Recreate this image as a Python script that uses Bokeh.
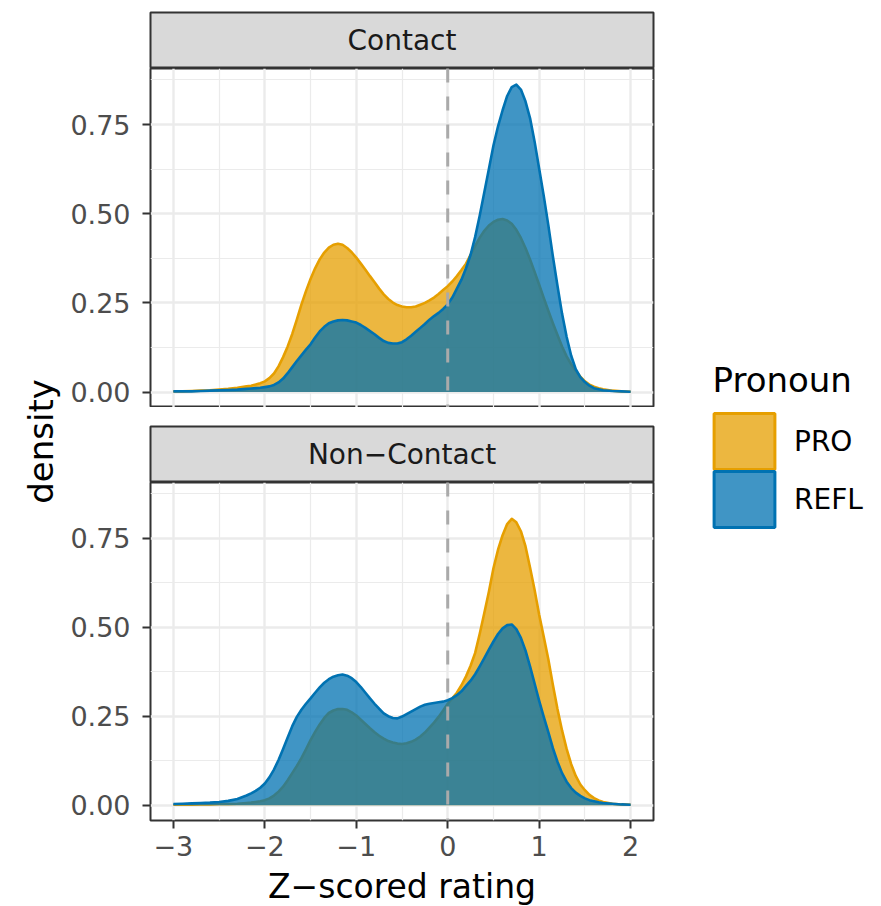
import math
from bokeh.plotting import figure
from bokeh.layouts import row, column
from bokeh.models import (Range1d, FixedTicker, Span, Label, Legend, LegendItem,
                          ColumnDataSource)
from bokeh.embed import file_html
from bokeh.resources import INLINE

# ---------------- data ----------------
facets = ["Contact", "Non\u2212Contact"]
pronouns = ["PRO", "REFL"]

x_grid = [-3.0, -2.9, -2.8, -2.7, -2.6, -2.5, -2.4, -2.3,
          -2.2, -2.15, -2.1, -2.05, -2.0, -1.95, -1.9, -1.85, -1.8, -1.75,
          -1.7, -1.65, -1.6, -1.55, -1.5, -1.45, -1.4, -1.35, -1.3, -1.25,
          -1.2, -1.15, -1.1, -1.05, -1.0, -0.95, -0.9, -0.85, -0.8, -0.75,
          -0.7, -0.65, -0.6, -0.55, -0.5, -0.45, -0.4, -0.35, -0.3, -0.25,
          -0.2, -0.15, -0.1, -0.05, 0.0, 0.05, 0.1, 0.15, 0.2, 0.25,
          0.3, 0.35, 0.4, 0.45, 0.5, 0.55, 0.6, 0.65, 0.7, 0.75,
          0.8, 0.85, 0.9, 0.95, 1.0, 1.05, 1.1, 1.15, 1.2, 1.25,
          1.3, 1.35, 1.4, 1.45, 1.5, 1.55, 1.6, 1.65, 1.7,
          1.8, 1.9, 2.0]

contact_pro = [0.002, 0.002, 0.003, 0.004, 0.005, 0.007, 0.009, 0.012,
               0.016, 0.018, 0.021, 0.025, 0.030, 0.039, 0.052, 0.072, 0.098, 0.128,
               0.163, 0.203, 0.245, 0.283, 0.317, 0.347, 0.372, 0.391, 0.405, 0.413,
               0.416, 0.413, 0.404, 0.392, 0.377, 0.360, 0.343, 0.325, 0.308, 0.290,
               0.274, 0.261, 0.251, 0.244, 0.240, 0.238, 0.238, 0.240, 0.245, 0.250,
               0.257, 0.265, 0.275, 0.286, 0.297, 0.310, 0.325, 0.342, 0.360, 0.385,
               0.410, 0.433, 0.452, 0.467, 0.477, 0.483, 0.485, 0.481, 0.472, 0.455,
               0.432, 0.404, 0.372, 0.337, 0.301, 0.264, 0.228, 0.193, 0.160, 0.128,
               0.100, 0.078, 0.060, 0.043, 0.030, 0.021, 0.015, 0.011, 0.008,
               0.004, 0.002, 0.001]

contact_refl = [0.002, 0.002, 0.002, 0.003, 0.004, 0.005, 0.006, 0.007,
                0.009, 0.010, 0.011, 0.012, 0.014, 0.016, 0.020, 0.027, 0.038, 0.053,
                0.070, 0.087, 0.103, 0.119, 0.134, 0.153, 0.170, 0.183, 0.193, 0.198,
                0.201, 0.202, 0.201, 0.198, 0.195, 0.188, 0.180, 0.171, 0.162, 0.152,
                0.143, 0.138, 0.136, 0.136, 0.140, 0.148, 0.158, 0.169, 0.180, 0.191,
                0.203, 0.213, 0.222, 0.233, 0.246, 0.265, 0.290, 0.315, 0.347, 0.385,
                0.435, 0.495, 0.560, 0.625, 0.691, 0.745, 0.790, 0.830, 0.855, 0.862,
                0.848, 0.815, 0.768, 0.702, 0.626, 0.550, 0.468, 0.380, 0.298, 0.220,
                0.155, 0.102, 0.064, 0.042, 0.028, 0.018, 0.011, 0.008, 0.005,
                0.003, 0.002, 0.001]

noncontact_pro = [0.001, 0.001, 0.001, 0.002, 0.002, 0.003, 0.003, 0.004,
                  0.006, 0.007, 0.009, 0.011, 0.014, 0.019, 0.027, 0.038, 0.052, 0.070,
                  0.090, 0.110, 0.132, 0.157, 0.183, 0.206, 0.227, 0.245, 0.259, 0.266,
                  0.270, 0.270, 0.268, 0.261, 0.252, 0.240, 0.228, 0.216, 0.205, 0.195,
                  0.187, 0.180, 0.176, 0.173, 0.172, 0.174, 0.178, 0.184, 0.193, 0.204,
                  0.218, 0.232, 0.248, 0.266, 0.285, 0.300, 0.316, 0.337, 0.362, 0.392,
                  0.428, 0.482, 0.540, 0.600, 0.666, 0.718, 0.759, 0.790, 0.805, 0.795,
                  0.770, 0.728, 0.668, 0.605, 0.535, 0.473, 0.410, 0.338, 0.270, 0.210,
                  0.158, 0.115, 0.082, 0.058, 0.042, 0.029, 0.020, 0.013, 0.009,
                  0.004, 0.002, 0.001]

noncontact_refl = [0.003, 0.004, 0.005, 0.006, 0.007, 0.009, 0.012, 0.017,
                   0.027, 0.033, 0.040, 0.049, 0.061, 0.078, 0.100, 0.127, 0.158, 0.190,
                   0.222, 0.248, 0.268, 0.285, 0.300, 0.316, 0.331, 0.344, 0.354, 0.361,
                   0.365, 0.367, 0.364, 0.357, 0.346, 0.332, 0.316, 0.300, 0.285, 0.271,
                   0.258, 0.250, 0.245, 0.244, 0.249, 0.256, 0.263, 0.270, 0.277, 0.282,
                   0.285, 0.287, 0.289, 0.291, 0.295, 0.301, 0.309, 0.320, 0.335, 0.350,
                   0.368, 0.390, 0.413, 0.437, 0.460, 0.481, 0.497, 0.506, 0.508, 0.495,
                   0.470, 0.435, 0.390, 0.342, 0.293, 0.248, 0.205, 0.160, 0.122, 0.090,
                   0.066, 0.048, 0.035, 0.026, 0.019, 0.014, 0.011, 0.008, 0.006,
                   0.004, 0.002, 0.001]

series = {
    "Contact": {"PRO": contact_pro, "REFL": contact_refl},
    "Non\u2212Contact": {"PRO": noncontact_pro, "REFL": noncontact_refl},
}

x_ticks = [-3, -2, -1, 0, 1, 2]
x_tick_labels = ["\u22123", "\u22122", "\u22121", "0", "1", "2"]
x_minor = [-2.5, -1.5, -0.5, 0.5, 1.5]
y_ticks = [0.0, 0.25, 0.5, 0.75]
y_tick_labels = ["0.00", "0.25", "0.50", "0.75"]
y_minor = [0.125, 0.375, 0.625, 0.875]

x_title = "Z\u2212scored rating"
y_title = "density"
legend_title = "Pronoun"

# ---------------- styles ----------------
COLORS = {"PRO": "#E69F00", "REFL": "#0072B2"}
FONT = "DejaVu Sans"
X0, X1 = -3.25, 2.25
Y0, Y1 = -0.0432, 0.907
H = 906
LEFT_W = 65
BORDER_L = 85
BORDER_R = 5
PANEL_W = BORDER_L + 503 + BORDER_R
LEG_W = 881 - LEFT_W - PANEL_W
DARK = "#333333"


def bare_fig(width, height, **kw):
    p = figure(width=width, height=height, x_axis_type=None, y_axis_type=None,
               toolbar_location=None, output_backend="svg", **kw)
    p.outline_line_color = None
    return p


def strip_fig(label, top_border):
    p = bare_fig(PANEL_W, top_border + 56,
                 min_border_top=top_border, min_border_bottom=0,
                 min_border_left=BORDER_L, min_border_right=BORDER_R,
                 x_range=Range1d(X0, X1), y_range=Range1d(0, 1))
    p.background_fill_color = "#D9D9D9"
    p.border_fill_color = "white"
    p.outline_line_color = DARK
    p.outline_line_width = 2
    p.add_layout(Label(x=(X0 + X1) / 2, y=0.5, text=label,
                       text_align="center", text_baseline="middle",
                       text_font=FONT, text_font_size="28px",
                       text_color="#1A1A1A"))
    return p


def panel_fig(facet, height, bottom_border, show_x):
    p = figure(width=PANEL_W, height=height,
               min_border_top=0, min_border_bottom=bottom_border,
               min_border_left=BORDER_L, min_border_right=BORDER_R,
               x_range=Range1d(X0, X1), y_range=Range1d(Y0, Y1),
               x_axis_location="below" if show_x else None,
               toolbar_location=None, output_backend="svg")
    p.background_fill_color = "white"
    p.outline_line_color = DARK
    p.outline_line_width = 2

    xt = FixedTicker(ticks=x_ticks, minor_ticks=x_minor)
    yt = FixedTicker(ticks=y_ticks, minor_ticks=y_minor)
    p.xgrid.ticker = xt
    p.ygrid.ticker = yt
    for g in (p.xgrid, p.ygrid):
        g.grid_line_color = "#EBEBEB"
        g.grid_line_width = 2.4
        g.minor_grid_line_color = "#EBEBEB"
        g.minor_grid_line_width = 1.2

    p.yaxis.ticker = yt
    p.yaxis.major_label_overrides = dict(zip(y_ticks, y_tick_labels))
    axes = [p.yaxis]
    if show_x:
        p.xaxis.ticker = xt
        p.xaxis.major_label_overrides = dict(zip(x_ticks, x_tick_labels))
        p.xaxis.major_label_standoff = 7
        axes.append(p.xaxis)
    for ax in axes:
        ax.axis_line_color = None
        ax.major_tick_line_color = DARK
        ax.major_tick_line_width = 2
        ax.major_tick_out = 8
        ax.major_tick_in = 0
        ax.minor_tick_line_color = None
        ax.major_label_text_font = FONT
        ax.major_label_text_font_size = "27px"
        ax.major_label_text_color = "#4D4D4D"
    p.yaxis.major_label_standoff = 12

    for pr in pronouns:
        src = ColumnDataSource(dict(x=x_grid, y=series[facet][pr]))
        p.varea(x="x", y1=0, y2="y", source=src,
                fill_color=COLORS[pr], fill_alpha=0.75)
        p.line(x="x", y="y", source=src, line_color=COLORS[pr],
               line_width=2.6, line_join="round")

    p.add_layout(Span(location=0, dimension="height", line_color="#AAAAAA",
                      line_width=3, line_dash="14 14"))
    return p


s1 = strip_fig(facets[0], 12)
p1 = panel_fig(facets[0], 339, 0, False)
s2 = strip_fig(facets[1], 19)
p2 = panel_fig(facets[1], 338 + 47, 47, True)

# x-axis title (below the bottom panel, centred on the panels)
TITLE_H = H - (68 + 339 + 75 + 385)
ptitle = bare_fig(PANEL_W, TITLE_H, min_border_top=0, min_border_bottom=0,
                  min_border_left=BORDER_L, min_border_right=BORDER_R,
                  x_range=Range1d(X0, X1), y_range=Range1d(0, 1))
ptitle.add_layout(Label(x=(X0 + X1) / 2, y=TITLE_H - (886 - 867), y_units="screen",
                        text=x_title, text_align="center", text_baseline="middle",
                        text_font=FONT, text_font_size="33px", text_color="black"))

# left: shared y title
pleft = bare_fig(LEFT_W, H, min_border=0)
pleft.add_layout(Label(x=40, y=H - 441, x_units="screen", y_units="screen",
                       text=y_title, angle=math.pi / 2,
                       text_align="center", text_baseline="middle",
                       text_font=FONT, text_font_size="34px", text_color="black"))

# right: legend
pleg = bare_fig(LEG_W, H, min_border=0,
                x_range=Range1d(0, 1), y_range=Range1d(0, 1))
pleg.add_layout(Label(x=54, y=H - 379, x_units="screen", y_units="screen",
                      text=legend_title, text_align="left",
                      text_baseline="middle",
                      text_font=FONT, text_font_size="34px", text_color="black"))
legend_bottoms = {"PRO": 430, "REFL": 372}
for pr in pronouns:
    nan = float("nan")
    r = pleg.quad(left=[nan], right=[nan], top=[nan], bottom=[nan],
                  fill_color=COLORS[pr], fill_alpha=0.75,
                  line_color=COLORS[pr], line_width=3)
    leg = Legend(items=[LegendItem(label=pr, renderers=[r])],
                 location=(48, legend_bottoms[pr]),
                 label_text_font=FONT, label_text_font_size="28px",
                 label_text_color="black", label_standoff=12,
                 glyph_width=76, glyph_height=70, spacing=0,
                 padding=0, margin=0, border_line_color=None,
                 background_fill_alpha=0)
    pleg.add_layout(leg)

layout = row(pleft, column(s1, p1, s2, p2, ptitle), pleg)

open("out.html", "w").write(file_html(layout, INLINE))
